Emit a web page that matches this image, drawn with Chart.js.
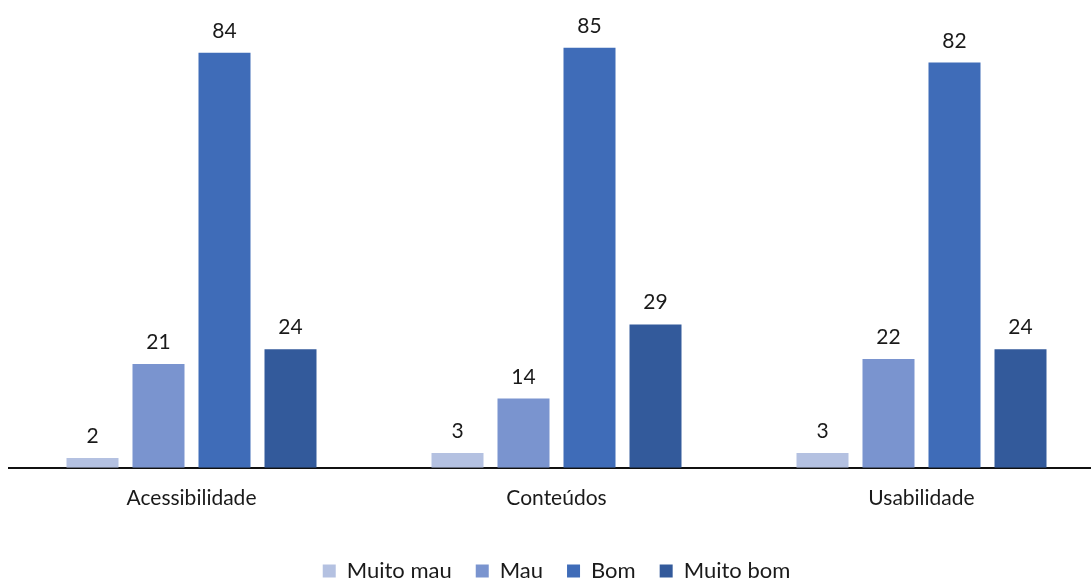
<!DOCTYPE html>
<html>
<head>
<meta charset="utf-8">
<script src="https://cdn.jsdelivr.net/npm/chart.js@4"></script>
<style>
  html, body { margin: 0; padding: 0; background: #fff; overflow: hidden; }
  #wrap { width: 1091px; height: 581px; position: relative; overflow: hidden; }
  #c { position: absolute; left: 0; top: 0; }
</style>
</head>
<body>
<div id="wrap"><canvas id="c" width="1104" height="592"></canvas></div>
<script>
const categories = ['Acessibilidade', 'Conteúdos', 'Usabilidade'];
const seriesNames = ['Muito mau', 'Mau', 'Bom', 'Muito bom'];
const muitoMau = [2, 3, 3];
const mau = [21, 14, 22];
const bom = [84, 85, 82];
const muitoBom = [24, 29, 24];
const colors = ['#b4c1e1', '#7a94cf', '#3f6cb8', '#335a9b'];

const FONT = "Lato, 'Open Sans', 'Noto Sans', sans-serif";

// Value labels drawn above each bar
const valueLabels = {
  id: 'valueLabels',
  afterDatasetsDraw(chart) {
    const ctx = chart.ctx;
    ctx.save();
    ctx.font = '21px ' + FONT;
    ctx.fillStyle = '#1a1a1a';
    ctx.textAlign = 'center';
    ctx.textBaseline = 'alphabetic';
    chart.data.datasets.forEach((ds, i) => {
      chart.getDatasetMeta(i).data.forEach((bar, j) => {
        ctx.fillText(String(ds.data[j]), bar.x, bar.y - 15);
      });
    });
    ctx.restore();
  }
};

new Chart(document.getElementById('c'), {
  type: 'bar',
  data: {
    labels: categories,
    datasets: [muitoMau, mau, bom, muitoBom].map((d, i) => ({
      label: seriesNames[i],
      data: d,
      backgroundColor: colors[i],
      borderWidth: 0,
      categoryPercentage: 0.7233,
      barPercentage: 0.788
    }))
  },
  options: {
    responsive: false,
    animation: false,
    layout: { padding: { left: 9, right: 0, top: 23, bottom: 0 } },
    scales: {
      x: {
        grid: { display: false, drawTicks: false },
        border: { display: true, color: '#111111', width: 2 },
        ticks: { color: '#1a1a1a', font: { size: 21, family: FONT }, padding: 18 },
        // extra room between the category labels and the legend
        afterFit(scale) { scale.height += 7; }
      },
      y: {
        display: false,
        min: 0,
        max: 90
      }
    },
    plugins: {
      legend: {
        position: 'bottom',
        labels: {
          color: '#1a1a1a',
          font: { size: 22, family: FONT },
          boxWidth: 13,
          boxHeight: 13,
          padding: 24
        }
      },
      tooltip: { enabled: false }
    }
  },
  plugins: [valueLabels]
});
</script>
</body>
</html>
